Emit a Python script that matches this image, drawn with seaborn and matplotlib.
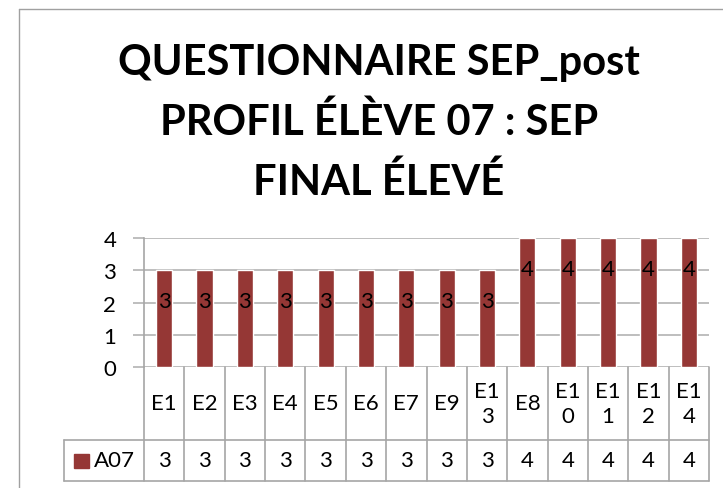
"""
Profil eleve 07 - SEP post, bar chart with an Excel-like data table under it
"""

import matplotlib
matplotlib.use("Agg")
import matplotlib.pyplot as plt
from matplotlib.lines import Line2D
from matplotlib.patches import Rectangle
import seaborn as sns
import pandas as pd

sns.set_style("white")
plt.rcParams['font.family'] = ['Lato', 'DejaVu Sans']
plt.rcParams['text.color'] = 'black'
plt.rcParams['ytick.labelcolor'] = 'black'

TITLE = "QUESTIONNAIRE SEP_post\nPROFIL ÉLÈVE 07 : SEP\nFINAL ÉLEVÉ"
SERIES = "A07"
categories = ["E1", "E2", "E3", "E4", "E5", "E6", "E7", "E9", "E13",
              "E8", "E10", "E11", "E12", "E14"]
values = [3, 3, 3, 3, 3, 3, 3, 3, 3, 4, 4, 4, 4, 4]

BAR = "#953735"
GRID = "#b3b3b3"
LINE = "#a6a6a6"
W, H = 723, 489
FS = 16

df = pd.DataFrame({"cat": categories, "val": values})

fig = plt.figure(figsize=(W / 100, H / 100), dpi=100)

def px(x, y):
    # pixel -> figure fraction
    return x / W, 1 - y / H

# plot area
left, right, top, bottom = 144, 709, 239, 368
ax = fig.add_axes([left / W, 1 - bottom / H, (right - left) / W, (bottom - top) / H])
sns.barplot(data=df, x="cat", y="val", color=BAR, width=0.4, saturation=1, ax=ax)
ax.set_xlim(-0.5, len(categories) - 0.5)
ax.set_ylim(0, 4)
ax.set_yticks(range(5))
ax.yaxis.grid(True, color=GRID, lw=1.2)
ax.set_axisbelow(True)
for s in ["top", "right", "bottom"]:
    ax.spines[s].set_visible(False)
ax.spines["left"].set_color(LINE)
ax.spines["left"].set_linewidth(1.2)
ax.tick_params(axis="y", left=True, length=8, width=1.2, color=GRID,
               labelsize=FS, pad=12)
ax.set_xticks([])
ax.set_xlabel("")
ax.set_ylabel("")

# data labels
for i, v in enumerate(values):
    ax.text(i, v - 0.95, str(v), ha="center", va="center", fontsize=FS)

# title
cx, cy = px(379, 123)
fig.text(cx, cy, TITLE, ha="center", va="center", fontsize=30,
         fontweight="bold", linespacing=1.62)

# data table below the axis
n = len(categories)
step = (right - left) / n
row1, row2, row3 = 368, 441, 482
tl = dict(color=LINE, lw=1.2)
def hline(x0, x1, y):
    fig.add_artist(Line2D([x0 / W, x1 / W], [1 - y / H, 1 - y / H], **tl))
def vline(x, y0, y1):
    fig.add_artist(Line2D([x / W, x / W], [1 - y0 / H, 1 - y1 / H], **tl))

hline(64, right, row2)
hline(64, right, row3)
vline(64, row2, row3)
for k in range(n + 1):
    vline(left + k * step, row1, row3)

for k, (c, v) in enumerate(zip(categories, values)):
    x = (left + (k + 0.5) * step) / W
    lab = c if len(c) <= 2 else c[:2] + "\n" + c[2:]
    fig.text(x, 1 - (row1 + row2) / 2 / H, lab, ha="center", va="center",
             fontsize=FS, linespacing=1.3)
    fig.text(x, 1 - (row2 + row3) / 2 / H, str(v), ha="center", va="center",
             fontsize=FS)

# legend key inside the table
fig.add_artist(Rectangle(px(74, 469), 15 / W, 14 / H, color=BAR))
fig.text(94 / W, 1 - (row2 + row3) / 2 / H, SERIES, ha="left", va="center",
         fontsize=FS)

# chart frame (cropped)
fig.add_artist(Line2D([19 / W, 1], [1 - 10 / H, 1 - 10 / H], color="#a0a0a0", lw=1))
fig.add_artist(Line2D([19 / W, 19 / W], [1 - 10 / H, 0], color="#a0a0a0", lw=1))

fig.savefig("out.png", dpi=100)
